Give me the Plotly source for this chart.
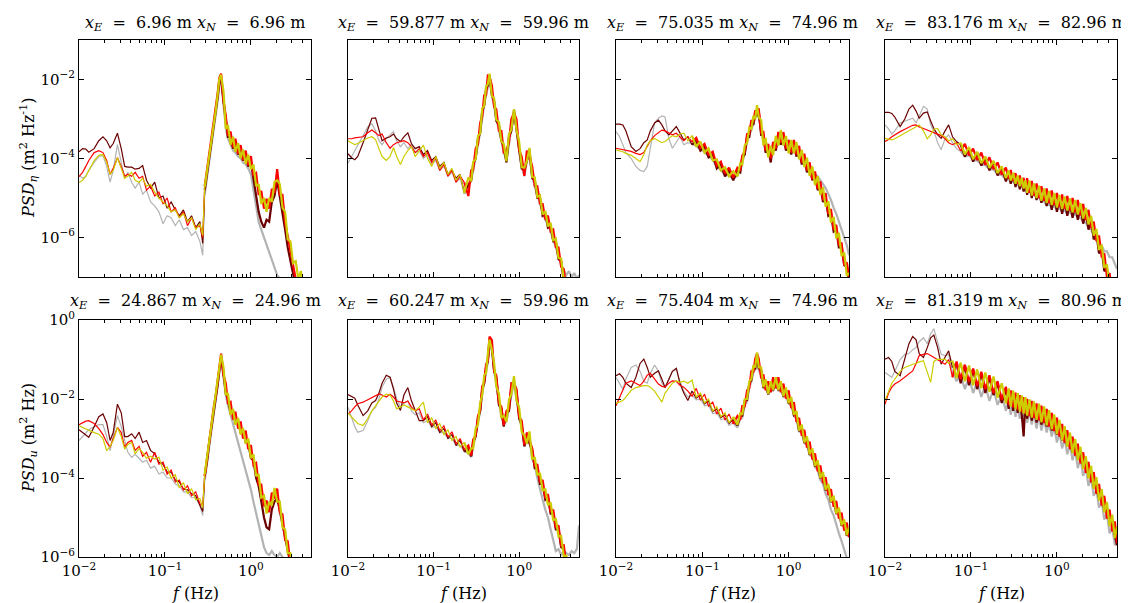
import plotly.graph_objects as go

# Frequency axis (Hz) shared by every spectrum
F = [0.010, 0.011, 0.012, 0.013, 0.015, 0.017, 0.019, 0.021, 0.023, 0.025,
     0.028, 0.031, 0.034, 0.037, 0.041, 0.045, 0.050, 0.055, 0.061, 0.068,
     0.076, 0.085, 0.095, 0.106, 0.118, 0.132, 0.147, 0.164, 0.183, 0.204,
     0.228, 0.255, 0.275, 0.29, 0.31, 0.33, 0.35, 0.37, 0.39, 0.41,
     0.43, 0.45, 0.48, 0.51, 0.54, 0.58, 0.62, 0.66, 0.71, 0.76,
     0.81, 0.87, 0.93, 1.00, 1.07, 1.15, 1.23, 1.32, 1.42, 1.52,
     1.63, 1.75, 1.88, 2.02, 2.17, 2.33, 2.50, 2.68, 2.88, 3.09,
     3.32, 3.56, 3.82, 4.10, 4.40, 4.72, 5.00]

# ---- log10 PSD: top row (eta) ----
eta1_gray = [-4.42, -4.5, -4.45, -4.3, -4.1, -3.95, -3.93, -4.2, -4.6, -4.3,
             -3.65, -4.1, -4.5, -4.35, -4.6, -4.75, -4.6, -4.9, -4.8, -5.1,
             -5.2, -5.35, -5.65, -5.45, -5.5, -5.7, -5.55, -5.8, -5.75, -5.95,
             -5.85, -6.1, -6.45, -4.9, -4.45, -4.05, -3.7, -3.35, -2.95, -2.55,
             -2.15, -2.0, -2.65, -3.2, -3.5, -3.65, -3.8, -3.85, -3.95, -4.0,
             -4.1, -4.15, -4.25, -4.4, -4.8, -5.2, -5.6, -5.8, -6.0, -6.2,
             -6.4, -6.55, -6.75, -6.95, -7.05, -7.2, -7.4, -7.6, -7.8, -8,
             -8, -8, -8, -8, -8, -8, -8]
eta1_maroon = [-3.83, -3.75, -3.76, -3.84, -3.75, -3.55, -3.45, -3.55, -3.73, -3.62,
               -3.36, -3.75, -4.2, -4.22, -4.22, -4.27, -4.25, -4.18, -4.55, -4.75,
               -4.6, -5.0, -4.95, -5.26, -5.1, -5.3, -5.45, -5.3, -5.6, -5.45,
               -5.75, -5.6, -6.15, -4.8, -4.35, -3.95, -3.6, -3.25, -2.85, -2.45,
               -2.05, -1.95, -2.55, -3.05, -3.45, -3.45, -3.75, -3.6, -3.9, -3.75,
               -4.05, -3.9, -4.2, -4.1, -4.55, -4.9, -5.35, -5.6, -5.75, -5.55,
               -5.6, -5.1, -4.95, -4.55, -4.95, -5.35, -5.8, -6.25, -6.6, -6.95,
               -7.3, -7.6, -7.9, -8, -8, -8, -8]
eta1_red = [-4.46, -4.35, -4.2, -4.05, -3.85, -3.8, -3.85, -4.05, -4.4, -4.25,
            -3.98, -4.2, -4.45, -4.4, -4.45, -4.35, -4.5, -4.45, -4.8, -4.7,
            -4.95, -4.85, -5.15, -5.0, -5.35, -5.25, -5.5, -5.35, -5.7, -5.5,
            -5.75, -5.7, -6.0, -4.7, -4.25, -3.85, -3.5, -3.15, -2.75, -2.35,
            -1.95, -1.85, -2.55, -2.92, -3.42, -3.32, -3.72, -3.5, -3.88, -3.66,
            -4.04, -3.8, -4.17, -3.94, -4.42, -4.37, -4.92, -4.82, -5.27, -5.02,
            -5.27, -4.77, -4.87, -4.27, -4.92, -4.92, -5.62, -6.0, -6.4, -6.8,
            -7.1, -7.4, -7.7, -8, -8, -8, -8]
eta1_yellow = [-4.61, -4.55, -4.45, -4.3, -4.05, -3.92, -3.9, -4.1, -4.4, -4.3,
               -3.98, -4.25, -4.5, -4.45, -4.35, -4.55, -4.6, -4.5, -4.7, -4.65,
               -4.85, -5.0, -5.1, -5.2, -5.35, -5.3, -5.5, -5.4, -5.6, -5.5,
               -5.8, -5.65, -5.95, -4.72, -4.3, -3.88, -3.52, -3.18, -2.78, -2.38,
               -1.98, -1.88, -2.3, -3.25, -3.15, -3.65, -3.45, -3.83, -3.61, -3.99,
               -3.77, -4.13, -3.9, -4.27, -4.15, -4.7, -4.65, -5.15, -5.0, -5.35,
               -5.0, -5.1, -4.6, -4.55, -4.65, -5.25, -5.35, -6.05, -6.1, -6.65,
               -6.6, -7.05, -6.85, -7.35, -7.25, -7.75, -7.65]

eta2_gray = [-4.12, -3.95, -3.8, -3.65, -3.4, -3.2, -3.12, -3.3, -3.55, -3.65,
             -3.5, -3.4, -3.32, -3.55, -3.7, -3.6, -3.75, -3.65, -3.85, -3.8,
             -4.0, -3.9, -4.15, -4.05, -4.3, -4.2, -4.45, -4.35, -4.6, -4.5,
             -4.9, -4.7, -4.55, -4.3, -4.0, -3.65, -3.35, -2.95, -2.65, -2.4,
             -2.15, -2.0, -2.4, -2.7, -3.0, -3.3, -3.55, -3.85, -4.05, -3.6,
             -3.25, -2.9, -3.25, -3.8, -4.2, -4.45, -4.05, -3.95, -4.45, -4.7,
             -4.95, -5.15, -5.35, -5.55, -5.65, -5.85, -6.0, -6.25, -6.45, -6.7,
             -6.85, -6.95, -6.85, -7.0, -6.9, -7.05, -6.95]
eta2_maroon = [-3.88, -3.98, -4.03, -3.95, -3.6, -3.25, -2.98, -2.97, -3.25, -3.55,
               -3.48, -3.45, -3.38, -3.5, -3.57, -3.45, -3.35, -3.62, -3.75, -3.7,
               -3.9, -3.8, -4.05, -3.95, -4.2, -4.1, -4.4, -4.3, -4.5, -4.4,
               -4.85, -4.65, -4.55, -4.15, -4.0, -3.5, -3.35, -2.8, -2.65, -2.25,
               -2.15, -1.9, -2.4, -2.55, -3.05, -3.15, -3.55, -3.7, -4.1, -3.45,
               -3.3, -2.78, -3.25, -3.65, -4.25, -4.3, -4.05, -3.8, -4.5, -4.55,
               -5.0, -5.0, -5.45, -5.4, -5.75, -5.7, -6.1, -6.1, -6.55, -6.6,
               -7.1, -7.15, -7.6, -7.8, -8, -8, -8]
eta2_red = [-3.5, -3.5, -3.48, -3.47, -3.45, -3.35, -3.28, -3.35, -3.42, -3.38,
            -3.6, -3.74, -3.65, -3.6, -3.58, -3.55, -3.6, -3.7, -3.85, -3.75,
            -3.95, -3.85, -4.1, -4.0, -4.3, -4.15, -4.45, -4.3, -4.6, -4.45,
            -4.6, -4.95, -4.3, -4.29, -3.75, -3.64, -3.1, -2.94, -2.4, -2.39,
            -1.9, -1.92, -2.15, -2.69, -2.75, -3.29, -3.3, -3.84, -3.8, -3.59,
            -3.0, -2.85, -3.0, -3.79, -3.95, -4.44, -3.8, -3.94, -4.2, -4.69,
            -4.7, -5.14, -5.15, -5.54, -5.45, -5.84, -5.8, -6.24, -6.25, -6.74,
            -6.8, -7.3, -7.4, -7.9, -8, -8, -8]
eta2_yellow = [-3.55, -3.6, -3.65, -3.62, -3.55, -3.48, -3.45, -3.52, -3.75, -3.95,
               -4.05, -3.95, -3.72, -3.95, -4.15, -3.95, -3.8, -3.7, -3.95, -3.8,
               -3.66, -4.0, -4.2, -3.95, -4.25, -4.1, -4.4, -4.25, -4.55, -4.4,
               -4.87, -4.48, -4.57, -4.08, -4.02, -3.43, -3.37, -2.73, -2.67, -2.18,
               -2.12, -1.85, -2.42, -2.48, -3.02, -3.08, -3.57, -3.63, -4.07, -3.38,
               -3.27, -2.75, -3.27, -3.58, -4.22, -4.23, -4.07, -3.73, -4.47, -4.48,
               -4.97, -4.93, -5.42, -5.33, -5.72, -5.63, -6.07, -6.03, -6.52, -6.53,
               -7.07, -7.08, -7.62, -7.7, -8, -8, -8]

eta3_gray = [-3.32, -3.45, -3.65, -3.85, -4.0, -4.2, -4.3, -4.33, -4.2, -3.7,
             -3.1, -2.98, -2.92, -2.95, -3.5, -3.74, -3.6, -3.45, -3.65, -3.6,
             -3.62, -3.68, -3.77, -3.83, -3.94, -4.03, -4.22, -4.28, -4.42, -4.43,
             -4.52, -4.43, -4.32, -4.13, -3.87, -3.58, -3.42, -3.23, -3.12, -2.98,
             -2.92, -2.93, -3.32, -3.58, -3.77, -3.88, -3.97, -3.83, -3.72, -3.58,
             -3.57, -3.58, -3.72, -3.78, -3.82, -3.78, -3.87, -3.93, -4.05, -4.1,
             -4.2, -4.25, -4.3, -4.4, -4.45, -4.55, -4.65, -4.75, -4.9, -5.05,
             -5.25, -5.4, -5.6, -5.8, -6.0, -6.2, -6.45]
eta3_maroon = [-3.13, -3.13, -3.15, -3.3, -3.7, -3.82, -3.75, -3.6, -3.53, -3.3,
               -3.1, -3.03, -3.15, -3.3, -3.4, -3.3, -3.19, -3.35, -3.53, -3.45,
               -3.65, -3.55, -3.8, -3.7, -3.97, -3.9, -4.25, -4.15, -4.45, -4.3,
               -4.55, -4.3, -4.35, -3.98, -3.9, -3.45, -3.45, -3.1, -3.15, -2.85,
               -2.9, -2.8, -3.4, -3.4, -3.85, -3.75, -4.1, -3.65, -3.8, -3.4,
               -3.65, -3.45, -3.8, -3.65, -3.9, -3.65, -3.95, -3.8, -4.15, -4.0,
               -4.35, -4.2, -4.55, -4.45, -4.8, -4.7, -5.1, -5.0, -5.45, -5.4,
               -5.85, -5.8, -6.25, -6.25, -6.7, -6.75, -7.1]
eta3_red = [-3.74, -3.76, -3.78, -3.8, -3.82, -3.87, -3.9, -3.85, -3.7, -3.55,
            -3.42, -3.35, -3.28, -3.3, -3.35, -3.4, -3.36, -3.45, -3.55, -3.45,
            -3.58, -3.48, -3.73, -3.63, -3.9, -3.83, -4.18, -4.08, -4.38, -4.23,
            -4.48, -4.23, -4.28, -3.93, -3.83, -3.38, -3.38, -3.03, -3.08, -2.78,
            -2.88, -2.73, -3.35, -3.33, -3.8, -3.63, -4.0, -3.58, -3.75, -3.33,
            -3.6, -3.33, -3.75, -3.53, -3.85, -3.53, -3.9, -3.68, -4.1, -3.88,
            -4.3, -4.1, -4.52, -4.33, -4.77, -4.58, -5.05, -4.88, -5.4, -5.28,
            -5.8, -5.68, -6.2, -6.13, -6.7, -6.63, -7.0]
eta3_yellow = [-3.78, -3.8, -3.83, -3.87, -3.92, -4.0, -4.08, -3.9, -3.66, -3.55,
               -3.49, -3.55, -3.6, -3.57, -3.5, -3.42, -3.45, -3.38, -3.36, -3.55,
               -3.42, -3.7, -3.57, -3.85, -3.74, -4.05, -4.02, -4.3, -4.22, -4.45,
               -4.32, -4.45, -4.12, -4.15, -3.67, -3.6, -3.22, -3.25, -2.92, -3.0,
               -2.65, -2.95, -3.03, -3.67, -3.48, -3.97, -3.68, -3.92, -3.43, -3.67,
               -3.28, -3.67, -3.43, -3.87, -3.53, -3.87, -3.58, -4.02, -3.78, -4.22,
               -3.98, -4.44, -4.2, -4.67, -4.45, -4.92, -4.73, -5.22, -5.08, -5.62,
               -5.48, -6.02, -5.88, -6.47, -6.38, -6.97, -6.9]

eta4_gray = [-3.15, -3.25, -3.38, -3.3, -3.1, -3.05, -3.0, -2.98, -3.1, -2.9,
             -2.68, -2.75, -3.15, -3.3, -3.6, -3.78, -3.5, -3.4, -3.6, -3.75,
             -3.82, -3.95, -3.92, -4.05, -4.05, -4.15, -4.17, -4.27, -4.28, -4.4,
             -4.42, -4.53, -4.52, -4.59, -4.58, -4.67, -4.65, -4.73, -4.71, -4.79,
             -4.77, -4.85, -4.83, -4.92, -4.9, -5.0, -4.98, -5.1, -5.08, -5.2,
             -5.15, -5.25, -5.2, -5.3, -5.25, -5.35, -5.3, -5.4, -5.35, -5.45,
             -5.4, -5.5, -5.5, -5.6, -5.62, -5.75, -5.8, -5.95, -6.0, -6.15,
             -6.2, -6.35, -6.35, -6.5, -6.5, -6.65, -6.8]
eta4_maroon = [-2.83, -2.83, -2.86, -2.95, -3.19, -3.0, -2.75, -2.65, -2.8, -2.98,
               -2.85, -2.82, -3.05, -3.24, -3.4, -3.49, -3.3, -3.15, -3.45, -3.57,
               -3.65, -3.95, -3.75, -4.08, -3.85, -4.18, -3.97, -4.3, -4.08, -4.43,
               -4.22, -4.58, -4.32, -4.64, -4.38, -4.72, -4.45, -4.78, -4.51, -4.84,
               -4.57, -4.92, -4.63, -5.0, -4.7, -5.05, -4.76, -5.12, -4.83, -5.2,
               -4.9, -5.3, -4.95, -5.35, -5.0, -5.4, -5.05, -5.45, -5.1, -5.5,
               -5.15, -5.55, -5.25, -5.65, -5.35, -5.8, -5.55, -6.05, -5.9, -6.4,
               -6.3, -6.85, -6.8, -7.3, -7.3, -7.8, -7.8]
eta4_red = [-3.57, -3.52, -3.45, -3.4, -3.32, -3.26, -3.2, -3.16, -3.15, -3.2,
            -3.24, -3.28, -3.32, -3.35, -3.38, -3.42, -3.5, -3.6, -3.65, -3.6,
            -3.81, -3.63, -3.92, -3.75, -4.04, -3.85, -4.16, -3.97, -4.27, -4.1,
            -4.41, -4.23, -4.51, -4.29, -4.57, -4.37, -4.64, -4.43, -4.7, -4.49,
            -4.76, -4.5, -4.87, -4.57, -4.94, -4.63, -5.0, -4.7, -5.07, -4.76,
            -5.13, -4.81, -5.18, -4.87, -5.23, -4.91, -5.27, -4.95, -5.32, -5.0,
            -5.36, -5.05, -5.44, -5.15, -5.56, -5.3, -5.76, -5.6, -6.09, -5.95,
            -6.5, -6.4, -7.0, -6.9, -7.5, -7.4, -7.9]
eta4_yellow = [-3.49, -3.51, -3.53, -3.5, -3.42, -3.35, -3.3, -3.25, -3.18, -3.15,
               -3.3, -3.5, -3.4, -3.26, -3.24, -3.4, -3.45, -3.55, -3.5, -3.65,
               -3.6, -3.9, -3.71, -4.02, -3.83, -4.12, -3.95, -4.24, -4.06, -4.37,
               -4.2, -4.5, -4.3, -4.56, -4.36, -4.64, -4.43, -4.7, -4.49, -4.76,
               -4.55, -4.87, -4.56, -4.94, -4.63, -5.0, -4.69, -5.07, -4.76, -5.13,
               -4.82, -5.18, -4.87, -5.24, -4.92, -5.28, -4.96, -5.32, -5.01, -5.37,
               -5.05, -5.42, -5.13, -5.52, -5.25, -5.67, -5.45, -5.95, -5.78, -6.32,
               -6.18, -6.77, -6.68, -7.27, -7.18, -7.77, -7.7]

# ---- log10 PSD: bottom row (u) ----
u1_gray = [-3.05, -2.95, -2.85, -2.78, -2.7, -2.65, -2.65, -2.95, -3.31, -2.9,
           -2.42, -2.7, -3.05, -3.35, -3.48, -3.4, -3.5, -3.6, -3.55, -3.75,
           -3.7, -3.9, -3.85, -4.0, -4.0, -4.15, -4.2, -4.35, -4.35, -4.5,
           -4.5, -4.7, -4.95, -4.05, -3.6, -3.1, -2.75, -2.35, -2.05, -1.7,
           -1.3, -1.0, -1.45, -1.9, -2.15, -2.4, -2.6, -2.8, -3.05, -3.3,
           -3.55, -3.75, -4.0, -4.3, -4.6, -4.9, -5.2, -5.5, -5.75, -5.9,
           -5.95, -5.85, -5.95, -6.0, -5.9, -6.0, -6.1, -6.2, -6.3, -6.4,
           -6.5, -6.6, -6.7, -6.8, -6.9, -7, -7]
u1_maroon = [-2.78, -2.85, -2.93, -2.97, -2.7, -2.45, -2.38, -2.6, -3.05, -2.85,
             -2.13, -2.35, -2.95, -2.95, -2.88, -3.0, -2.84, -3.1, -3.05, -3.3,
             -3.39, -3.6, -3.65, -3.85, -3.85, -4.05, -4.1, -4.28, -4.3, -4.4,
             -4.45, -4.7, -4.85, -3.95, -3.55, -3.05, -2.7, -2.3, -2.0, -1.65,
             -1.25, -0.95, -1.35, -1.85, -2.0, -2.35, -2.35, -2.6, -2.55, -2.85,
             -2.8, -3.1, -3.1, -3.5, -3.55, -4.0, -4.2, -4.65, -5.0, -5.25,
             -5.3, -4.8, -4.6, -4.5, -4.85, -5.2, -5.55, -5.85, -6.15, -6.5,
             -6.7, -6.9, -7, -7, -7, -7, -7]
u1_red = [-2.65, -2.6, -2.56, -2.55, -2.62, -2.75, -2.9, -3.1, -3.22, -3.0,
          -2.72, -2.85, -3.22, -3.1, -3.05, -3.3, -3.2, -3.45, -3.35, -3.6,
          -3.35, -3.65, -3.6, -3.9, -3.8, -4.1, -4.05, -4.3, -4.2, -4.45,
          -4.35, -4.65, -4.7, -3.95, -3.45, -2.95, -2.6, -2.2, -1.9, -1.5,
          -1.1, -0.85, -1.4, -1.6, -2.1, -2.07, -2.52, -2.32, -2.75, -2.57,
          -3.0, -2.8, -3.27, -3.17, -3.67, -3.62, -4.17, -4.17, -4.72, -4.57,
          -4.87, -4.37, -4.52, -4.27, -4.87, -4.92, -5.57, -5.6, -6.2, -6.5,
          -6.7, -6.9, -7, -7, -7, -7, -7]
u1_yellow = [-2.68, -2.72, -2.77, -2.8, -2.85, -2.89, -3.0, -3.31, -3.2, -3.05,
             -2.72, -2.95, -3.27, -3.15, -3.1, -3.39, -3.25, -3.35, -3.5, -3.45,
             -3.52, -3.47, -3.8, -3.72, -4.0, -3.92, -4.25, -4.12, -4.4, -4.27,
             -4.55, -4.52, -4.75, -3.9, -3.45, -2.95, -2.6, -2.2, -1.9, -1.55,
             -1.15, -0.88, -1.2, -1.9, -1.85, -2.4, -2.25, -2.65, -2.48, -2.9,
             -2.73, -3.13, -3.0, -3.5, -3.4, -3.95, -3.9, -4.5, -4.45, -4.9,
             -4.6, -4.7, -4.25, -4.6, -4.6, -5.25, -5.3, -5.9, -5.9, -6.55,
             -6.5, -6.95, -6.9, -7, -7, -7, -7]

u2_gray = [-2.21, -2.45, -2.7, -2.84, -2.8, -2.55, -2.3, -2.21, -2.0, -1.7,
           -1.5, -1.45, -1.7, -2.0, -2.2, -2.1, -2.05, -2.3, -2.4, -2.35,
           -2.6, -2.55, -2.72, -2.7, -2.85, -2.85, -3.0, -3.0, -3.17, -3.18,
           -3.32, -3.37, -3.47, -3.22, -2.97, -2.62, -2.32, -1.87, -1.62, -1.32,
           -1.07, -0.65, -0.77, -1.27, -1.67, -2.07, -2.47, -2.62, -2.57, -2.22,
           -1.87, -1.57, -2.02, -2.42, -2.82, -3.12, -3.12, -3.02, -3.52, -3.67,
           -4.0, -4.3, -4.55, -4.8, -5.0, -5.3, -5.6, -5.85, -5.8, -5.95,
           -5.85, -5.9, -5.95, -5.85, -5.9, -5.8, -5.2]
u2_maroon = [-1.89, -1.93, -1.98, -2.15, -2.42, -2.3, -2.1, -2.04, -1.85, -1.6,
             -1.4, -1.45, -1.75, -2.1, -2.29, -1.9, -1.71, -2.04, -2.29, -2.55,
             -2.55, -2.45, -2.7, -2.6, -2.85, -2.75, -3.0, -2.9, -3.18, -3.05,
             -3.33, -3.25, -3.45, -3.1, -2.95, -2.5, -2.3, -1.75, -1.6, -1.2,
             -1.05, -0.55, -0.7, -1.3, -1.45, -2.15, -2.25, -2.7, -2.35, -2.3,
             -1.7, -1.6, -1.8, -2.5, -2.65, -3.2, -2.95, -3.1, -3.3, -3.75,
             -3.75, -4.15, -4.15, -4.55, -4.5, -4.9, -4.9, -5.3, -5.3, -5.75,
             -5.8, -6.25, -6.35, -6.75, -6.9, -7, -7]
u2_red = [-2.38, -2.3, -2.2, -2.12, -2.08, -2.02, -1.95, -1.9, -1.87, -1.9,
          -1.95, -1.88, -1.95, -2.05, -2.08, -2.1, -2.05, -2.2, -2.3, -2.25,
          -2.53, -2.38, -2.66, -2.53, -2.8, -2.68, -2.96, -2.83, -3.13, -3.0,
          -3.28, -3.18, -3.43, -3.03, -2.93, -2.43, -2.28, -1.68, -1.58, -1.13,
          -1.03, -0.42, -0.51, -1.31, -1.4, -2.11, -2.2, -2.66, -2.3, -2.26,
          -1.6, -1.61, -1.75, -2.46, -2.55, -3.16, -2.85, -3.06, -3.25, -3.71,
          -3.65, -4.11, -4.05, -4.51, -4.41, -4.86, -4.8, -5.26, -5.2, -5.71,
          -5.7, -6.21, -6.25, -6.71, -6.9, -7, -7]
u2_yellow = [-2.36, -2.45, -2.55, -2.62, -2.67, -2.5, -2.3, -2.17, -2.05, -1.95,
             -1.88, -1.9, -2.05, -2.25, -2.2, -2.15, -2.2, -2.25, -2.3, -2.2,
             -2.08, -2.6, -2.48, -2.75, -2.62, -2.9, -2.78, -3.05, -2.95, -3.22,
             -3.1, -3.4, -3.25, -3.25, -2.75, -2.65, -2.1, -1.9, -1.4, -1.35,
             -0.85, -0.5, -0.75, -1.1, -1.68, -1.87, -2.48, -2.42, -2.58, -2.02,
             -1.88, -1.42, -2.03, -2.22, -2.83, -2.92, -3.13, -2.82, -3.53, -3.47,
             -3.93, -3.87, -4.33, -4.27, -4.69, -4.62, -5.08, -5.02, -5.48, -5.47,
             -5.98, -5.97, -6.53, -6.5, -6.9, -7, -7]

u3_gray = [-1.45, -1.6, -1.75, -1.5, -1.2, -1.14, -1.3, -1.55, -1.6, -1.35,
           -1.14, -1.3, -1.6, -1.71, -1.5, -1.3, -1.25, -1.55, -1.8, -1.95,
           -1.9, -2.02, -2.0, -2.17, -2.15, -2.37, -2.35, -2.52, -2.5, -2.67,
           -2.6, -2.72, -2.5, -2.47, -2.15, -2.07, -1.7, -1.57, -1.3, -1.27,
           -1.05, -1.27, -1.4, -1.72, -1.7, -1.89, -1.75, -1.79, -1.65, -1.79,
           -1.75, -1.95, -1.91, -2.12, -2.15, -2.42, -2.5, -2.82, -2.85, -3.12,
           -3.15, -3.42, -3.45, -3.72, -3.8, -4.05, -4.15, -4.4, -4.55, -4.8,
           -4.95, -5.2, -5.4, -5.6, -5.8, -6.0, -6.2]
u3_maroon = [-1.41, -1.36, -1.45, -1.6, -1.71, -1.45, -1.1, -0.99, -1.2, -1.45,
             -1.35, -1.29, -1.5, -1.71, -1.5, -1.3, -1.22, -1.6, -1.85, -2.04,
             -1.8, -1.98, -1.9, -2.12, -2.05, -2.32, -2.25, -2.47, -2.4, -2.62,
             -2.52, -2.67, -2.42, -2.42, -2.05, -2.02, -1.6, -1.52, -1.2, -1.22,
             -0.95, -1.22, -1.27, -1.72, -1.57, -1.88, -1.62, -1.78, -1.52, -1.78,
             -1.62, -1.94, -1.78, -2.11, -2.02, -2.41, -2.37, -2.81, -2.72, -3.11,
             -3.02, -3.41, -3.32, -3.71, -3.62, -4.01, -3.92, -4.31, -4.22, -4.61,
             -4.52, -4.91, -4.82, -5.21, -5.12, -5.46, -5.35]
u3_red = [-2.17, -1.95, -1.75, -1.6, -1.54, -1.6, -1.66, -1.55, -1.4, -1.35,
          -1.5, -1.62, -1.68, -1.7, -1.6, -1.54, -1.55, -1.65, -1.7, -1.8,
          -1.93, -1.73, -2.03, -1.88, -2.18, -2.08, -2.38, -2.23, -2.53, -2.38,
          -2.63, -2.43, -2.53, -2.18, -2.18, -1.78, -1.73, -1.28, -1.33, -0.98,
          -0.85, -0.98, -1.48, -1.38, -1.78, -1.55, -1.83, -1.45, -1.73, -1.45,
          -1.83, -1.61, -1.99, -1.78, -2.23, -2.08, -2.58, -2.48, -2.93, -2.78,
          -3.23, -3.08, -3.53, -3.38, -3.83, -3.68, -4.13, -3.98, -4.43, -4.28,
          -4.73, -4.58, -5.03, -4.88, -5.33, -5.13, -5.5]
u3_yellow = [-2.11, -2.08, -2.04, -1.95, -1.78, -1.71, -1.68, -1.66, -1.66, -1.7,
             -1.8, -1.95, -2.08, -1.85, -1.71, -1.6, -1.54, -1.58, -1.55, -1.6,
             -1.52, -1.95, -1.85, -2.1, -2.0, -2.3, -2.2, -2.45, -2.35, -2.6,
             -2.45, -2.65, -2.35, -2.4, -2.0, -2.0, -1.55, -1.5, -1.15, -1.2,
             -0.82, -1.2, -1.2, -1.7, -1.5, -1.87, -1.55, -1.77, -1.45, -1.77,
             -1.55, -1.93, -1.71, -2.1, -1.95, -2.4, -2.3, -2.8, -2.65, -3.1,
             -2.95, -3.4, -3.25, -3.7, -3.55, -4.0, -3.85, -4.3, -4.15, -4.6,
             -4.45, -4.9, -4.75, -5.2, -5.05, -5.45, -5.25]

u4_gray = [-1.33, -1.4, -1.45, -1.3, -1.0, -0.87, -0.85, -0.75, -0.7, -0.55,
           -0.45, -0.6, -0.35, -0.22, -0.55, -0.87, -0.9, -0.87, -1.3, -1.55,
           -1.4, -1.75, -1.45, -1.85, -1.55, -1.95, -1.65, -2.05, -1.75, -2.15,
           -1.9, -2.3, -2.0, -2.4, -2.1, -2.45, -2.15, -2.5, -2.2, -2.55,
           -2.25, -2.6, -2.3, -2.65, -2.35, -2.75, -2.4, -2.8, -2.5, -2.85,
           -2.6, -2.95, -2.7, -3.1, -2.85, -3.25, -3.0, -3.4, -3.15, -3.55,
           -3.3, -3.75, -3.5, -3.95, -3.75, -4.2, -4.0, -4.45, -4.3, -4.75,
           -4.6, -5.05, -4.9, -5.4, -5.25, -5.7, -5.6]
u4_maroon = [-0.99, -0.95, -1.05, -1.3, -1.41, -1.0, -0.6, -0.42, -0.5, -0.85,
             -0.95, -0.7, -0.45, -0.38, -0.7, -1.12, -0.95, -0.78, -1.2, -1.1,
             -1.6, -1.15, -1.65, -1.25, -1.75, -1.35, -1.85, -1.45, -1.9, -1.6,
             -2.1, -1.75, -2.25, -1.85, -2.3, -1.9, -2.35, -1.95, -2.4, -2.95,
             -2.05, -2.5, -2.1, -2.55, -2.15, -2.6, -2.2, -2.65, -2.3, -2.7,
             -2.4, -2.8, -2.5, -2.9, -2.65, -3.05, -2.8, -3.2, -2.95, -3.35,
             -3.15, -3.5, -3.35, -3.7, -3.6, -3.95, -3.9, -4.2, -4.2, -4.5,
             -4.5, -4.8, -4.85, -5.1, -5.15, -5.45, -5.7]
u4_red = [-2.13, -1.85, -1.7, -1.62, -1.54, -1.45, -1.35, -1.29, -1.1, -0.9,
          -0.87, -0.85, -0.9, -0.95, -1.0, -1.05, -1.12, -1.0, -1.45, -1.05,
          -1.5, -1.13, -1.57, -1.23, -1.67, -1.31, -1.75, -1.4, -1.85, -1.55,
          -2.02, -1.69, -2.15, -1.78, -2.21, -1.84, -2.27, -1.9, -2.33, -1.95,
          -2.37, -2.0, -2.43, -2.05, -2.48, -2.11, -2.54, -2.17, -2.61, -2.25,
          -2.7, -2.35, -2.81, -2.47, -2.95, -2.63, -3.11, -2.79, -3.27, -2.95,
          -3.43, -3.13, -3.63, -3.35, -3.87, -3.59, -4.11, -3.85, -4.4, -4.15,
          -4.7, -4.45, -5.03, -4.8, -5.35, -5.1, -5.65]
u4_yellow = [-2.04, -1.8, -1.6, -1.5, -1.3, -1.2, -1.15, -1.12, -1.1, -1.06,
             -1.03, -1.3, -1.58, -1.05, -0.99, -1.0, -0.99, -1.1, -1.03, -1.47,
             -1.08, -1.55, -1.15, -1.65, -1.25, -1.73, -1.33, -1.82, -1.43, -1.97,
             -1.6, -2.11, -1.73, -2.2, -1.79, -2.26, -1.85, -2.32, -1.91, -2.37,
             -1.95, -2.42, -2.01, -2.47, -2.06, -2.53, -2.12, -2.59, -2.19, -2.67,
             -2.28, -2.77, -2.39, -2.89, -2.53, -3.05, -2.69, -3.21, -2.85, -3.37,
             -3.01, -3.55, -3.21, -3.77, -3.45, -4.01, -3.69, -4.27, -3.98, -4.57,
             -4.28, -4.87, -4.61, -5.22, -4.93, -5.52, -5.23]

# Panel titles
xE_top = ["6.96", "59.877", "75.035", "83.176"]
xN_top = ["6.96", "59.96", "74.96", "82.96"]
xE_bot = ["24.867", "60.247", "75.404", "81.319"]
xN_bot = ["24.96", "59.96", "74.96", "80.96"]

SERIES_COLORS = ["#b3b3b3", "#6b0000", "#ff0000", "#cccc00"]  # gray, maroon, red, yellow

top_panels = [[eta1_gray, eta1_maroon, eta1_red, eta1_yellow],
              [eta2_gray, eta2_maroon, eta2_red, eta2_yellow],
              [eta3_gray, eta3_maroon, eta3_red, eta3_yellow],
              [eta4_gray, eta4_maroon, eta4_red, eta4_yellow]]
bot_panels = [[u1_gray, u1_maroon, u1_red, u1_yellow],
              [u2_gray, u2_maroon, u2_red, u2_yellow],
              [u3_gray, u3_maroon, u3_red, u3_yellow],
              [u4_gray, u4_maroon, u4_red, u4_yellow]]
# index on F where each panel's spectrum turns into a dense noisy band
noisy_from = [[33, 30, 20, 20], [33, 30, 30, 18]]

for grp in top_panels + bot_panels:
    for s in grp:
        assert len(s) == len(F), len(s)

W, H = 1129, 603
col_px = [(71, 303), (340, 571), (608, 841), (877, 1109)]
row_px = [(32, 269), (312, 549)]
FONT = "DejaVu Serif"
NB = "\u00a0"

def xdom(c):
    return [col_px[c][0] / W, col_px[c][1] / W]

def ydom(r):
    return [1 - row_px[r][1] / H, 1 - row_px[r][0] / H]

def sup(e):
    return "10<sup>" + e.replace("-", "\u2212") + "</sup>"

fig = go.Figure()
layout = dict(width=W, height=H, margin=dict(l=0, r=0, t=0, b=0),
              paper_bgcolor="white", plot_bgcolor="white", template="none",
              showlegend=False, font=dict(family=FONT, size=15, color="black"))
annotations = []
minor_x = [0.02, 0.03, 0.04, 0.05, 0.06, 0.07, 0.08, 0.09,
           0.2, 0.3, 0.4, 0.5, 0.6, 0.7, 0.8, 0.9, 2, 3, 4, 5]
TICKFONT = dict(family=FONT, size=15, color="black")
LBLFONT = dict(family=FONT, size=16, color="black")

k = 0
for r, panels in enumerate([top_panels, bot_panels]):
    for c, grp in enumerate(panels):
        k += 1
        xa = "x" if k == 1 else f"x{k}"
        ya = "y" if k == 1 else f"y{k}"
        n0 = noisy_from[r][c]
        for s, color in zip(grp, SERIES_COLORS):
            y = [10 ** v for v in s]
            # smooth low-frequency part: thin line
            fig.add_trace(go.Scatter(x=F[:n0 + 1], y=y[:n0 + 1], mode="lines",
                                     line=dict(color=color, width=1.2),
                                     xaxis=xa, yaxis=ya, hoverinfo="skip"))
            # dense noisy part: heavier stroke so the band reads as filled
            fig.add_trace(go.Scatter(x=F[n0:], y=y[n0:], mode="lines",
                                     line=dict(color=color, width=2.2),
                                     xaxis=xa, yaxis=ya, hoverinfo="skip"))
        xkey = "xaxis" if k == 1 else f"xaxis{k}"
        ykey = "yaxis" if k == 1 else f"yaxis{k}"
        layout[xkey] = dict(
            type="log", range=[-2, 0.69897], domain=xdom(c), anchor=ya,
            showline=True, linecolor="black", linewidth=1, mirror="ticks",
            ticks="inside", ticklen=5, tickwidth=1, tickcolor="black",
            tickmode="array", tickvals=[0.01, 0.1, 1],
            ticktext=[sup("-2"), sup("-1"), sup("0")],
            showticklabels=(r == 1), showgrid=False, zeroline=False,
            tickfont=TICKFONT,
            minor=dict(ticks="inside", ticklen=3, tickcolor="black", tickwidth=1,
                       tickmode="array", tickvals=minor_x, showgrid=False))
        if r == 0:
            yr, yt = [-7, -1], [1e-6, 1e-4, 1e-2]
            ytt = [sup("-6"), sup("-4"), sup("-2")]
        else:
            yr, yt = [-6, 0], [1e-6, 1e-4, 1e-2, 1]
            ytt = [sup("-6"), sup("-4"), sup("-2"), sup("0")]
        layout[ykey] = dict(
            type="log", range=yr, domain=ydom(r), anchor=xa,
            showline=True, linecolor="black", linewidth=1, mirror="ticks",
            ticks="inside", ticklen=5, tickwidth=1, tickcolor="black",
            tickmode="array", tickvals=yt, ticktext=ytt,
            showticklabels=(c == 0), showgrid=False, zeroline=False,
            tickfont=TICKFONT)
        xe = xE_top[c] if r == 0 else xE_bot[c]
        xn = xN_top[c] if r == 0 else xN_bot[c]
        cx = (col_px[c][0] + col_px[c][1]) / 2 / W
        ty = 1 - (16 if r == 0 else 293) / H
        eq = NB + "=" + NB
        annotations.append(dict(
            x=cx, y=ty, xref="paper", yref="paper", showarrow=False,
            xanchor="center", yanchor="middle", font=LBLFONT,
            text=(f"<i>x</i><sub><i>E</i></sub> {eq} {xe} m "
                  f"<i>x</i><sub><i>N</i></sub> {eq} {xn} m")))
        if r == 1:
            annotations.append(dict(
                x=cx, y=1 - 585 / H, xref="paper", yref="paper", showarrow=False,
                xanchor="center", yanchor="middle", font=LBLFONT,
                text="<i>f</i> (Hz)"))

annotations.append(dict(x=20 / W, y=1 - 150 / H, xref="paper", yref="paper",
                        showarrow=False, textangle=-90, xanchor="center", yanchor="middle",
                        font=LBLFONT,
                        text="<i>PSD</i><sub><i>\u03b7</i></sub> (m<sup>2</sup> Hz<sup>-1</sup>)"))
annotations.append(dict(x=20 / W, y=1 - 430 / H, xref="paper", yref="paper",
                        showarrow=False, textangle=-90, xanchor="center", yanchor="middle",
                        font=LBLFONT,
                        text="<i>PSD</i><sub><i>u</i></sub> (m<sup>2</sup> Hz)"))
layout["annotations"] = annotations
fig.update_layout(**layout)
fig.write_html("out.html")
